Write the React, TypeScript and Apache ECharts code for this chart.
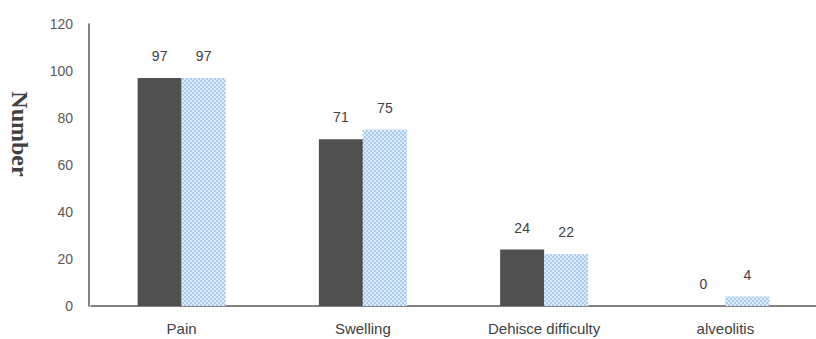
import React, { useEffect, useRef } from "react";
import * as echarts from "echarts";

const categories = ["Pain", "Swelling", "Dehisce difficulty", "alveolitis"];
const seriesA = [97, 71, 24, 0];
const seriesB = [97, 75, 22, 4];
const yTicks = { min: 0, max: 120, interval: 20 };
const yTitle = "Number";

export default function App() {
  const ref = useRef<HTMLDivElement>(null);
  useEffect(() => {
    const chart = echarts.init(ref.current!, null, { renderer: "svg" });
    const font = "Liberation Sans, Arial, sans-serif";
    const labelStyle = {
      show: true,
      position: "top" as const,
      distance: 15,
      color: "#404040",
      fontSize: 14,
      fontFamily: font,
    };
    chart.setOption({
      animation: false,
      backgroundColor: "#ffffff",
      grid: { left: 91, top: 24, width: 736, height: 282, containLabel: false },
      graphic: [
        {
          type: "text",
          x: 20,
          y: 134,
          rotation: -Math.PI / 2,
          style: {
            text: yTitle,
            fontFamily: "Liberation Serif, DejaVu Serif, serif",
            fontWeight: "bold",
            fontSize: 24,
            fill: "#404040",
            textAlign: "center",
            textVerticalAlign: "middle",
          },
        },
      ],
      xAxis: {
        type: "category",
        data: categories,
        axisLine: { show: true, lineStyle: { color: "#595959", width: 1.5 } },
        axisTick: { show: false },
        axisLabel: {
          color: "#404040",
          fontSize: 15,
          margin: 15,
          fontFamily: font,
        },
      },
      yAxis: {
        type: "value",
        min: yTicks.min,
        max: yTicks.max,
        interval: yTicks.interval,
        offset: 2,
        axisLine: { show: true, lineStyle: { color: "#595959", width: 1.5 } },
        axisTick: { show: false },
        splitLine: { show: false },
        axisLabel: {
          color: "#595959",
          fontSize: 14,
          margin: 16,
          fontFamily: font,
        },
      },
      series: [
        {
          type: "bar",
          data: seriesA,
          barWidth: 44,
          barGap: "0%",
          itemStyle: { color: "#505050" },
          label: labelStyle,
        },
        {
          type: "bar",
          data: seriesB,
          barWidth: 44,
          barGap: "0%",
          itemStyle: {
            color: "#a8cbf0",
            decal: {
              symbol: "rect",
              symbolSize: 1,
              color: "rgba(255,255,255,0.6)",
              dashArrayX: [[2, 2], [0, 2, 2, 0]],
              dashArrayY: [2, 0],
              rotation: 0,
            },
          },
          label: labelStyle,
        },
      ],
    });
    return () => chart.dispose();
  }, []);
  return (
    <div
      ref={ref}
      style={{ position: "absolute", left: 0, top: 0, width: 816, height: 339 }}
    />
  );
}
